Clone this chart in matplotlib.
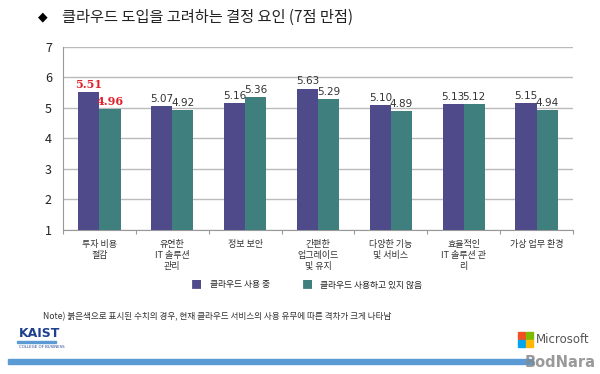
import numpy as np
import matplotlib
matplotlib.use("Agg")
import matplotlib.pyplot as plt
from matplotlib.patches import Rectangle

plt.rcParams['font.family'] = ['Noto Sans CJK KR', 'DejaVu Sans']

categories = ["투자 비용\n절감", "유연한\nIT 솔루션\n관리", "정보 보안", "간편한\n업그레이드\n및 유지",
              "다양한 기능\n및 서비스", "효율적인\nIT 솔루션 관\n리", "가상 업무 환경"]
using = [5.51, 5.07, 5.16, 5.63, 5.10, 5.13, 5.15]
not_using = [4.96, 4.92, 5.36, 5.29, 4.89, 5.12, 4.94]
series_names = ["클라우드 사용 중", "클라우드 사용하고 있지 않음"]
highlight = [True, False, False, False, False, False, False]

c_use = "#4f4b8a"
c_not = "#3f7f7d"

fig = plt.figure(figsize=(6, 3.74), dpi=100)
ax = fig.add_axes([0.105, 0.385, 0.85, 0.49])

x = np.arange(len(categories))
w = 0.29
ax.bar(x - w / 2, np.array(using) - 1, w, bottom=1, color=c_use, label=series_names[0], zorder=3)
ax.bar(x + w / 2, np.array(not_using) - 1, w, bottom=1, color=c_not, label=series_names[1], zorder=3)

for i in range(len(x)):
    if highlight[i]:
        kw = dict(color="#e0202a", fontweight="bold", family="DejaVu Serif", fontsize=8)
    else:
        kw = dict(color="#333333", family="DejaVu Sans", fontsize=7.5)
    ax.text(x[i] - w / 2, using[i] + 0.07, f"{using[i]:.2f}", ha="center", va="bottom", **kw)
    ax.text(x[i] + w / 2, not_using[i] + 0.07, f"{not_using[i]:.2f}", ha="center", va="bottom", **kw)

ax.set_xlim(-0.5, len(x) - 0.5)
ax.set_ylim(1, 7)
ax.set_yticks(range(1, 8))
ax.tick_params(axis="y", length=0, labelsize=9, colors="#222222", pad=8)
ax.set_xticks(np.arange(-0.5, len(x) + 0.5), minor=False)
ax.set_xticklabels([])
ax.tick_params(axis="x", length=3, color="#999999", direction="out")
for i, c in enumerate(categories):
    ax.text(x[i], 0.68, c, ha="center", va="top", fontsize=6.5, color="#333333",
            linespacing=1.3, transform=ax.transData)
ax.yaxis.grid(True, color="#bbbbbb", linewidth=1, zorder=0)
for s in ["top", "right"]:
    ax.spines[s].set_visible(False)
ax.spines["left"].set_color("#999999")
ax.spines["bottom"].set_color("#999999")

# legend
fig.text(0.328, 0.238, "■", fontsize=8, color=c_use, ha="center", va="center")
fig.text(0.35, 0.238, series_names[0], fontsize=6.3, color="#222222", va="center")
fig.text(0.512, 0.238, "■", fontsize=8, color=c_not, ha="center", va="center")
fig.text(0.533, 0.238, series_names[1], fontsize=6.3, color="#222222", va="center")

# title
fig.text(0.072, 0.955, "◆", fontsize=9, color="black", va="center", ha="center", family="DejaVu Sans")
fig.text(0.103, 0.955, "클라우드 도입을 고려하는 결정 요인 (7점 만점)", fontsize=11, color="#222222", va="center")

# footnote
fig.text(0.072, 0.152, "Note) 붉은색으로 표시된 수치의 경우, 현재 클라우드 서비스의 사용 유무에 따른 격차가 크게 나타남",
         fontsize=6.2, color="#333333", va="center")

# logos
fig.text(0.031, 0.107, "KAIST", fontsize=9, fontweight="bold", color="#1f3f8f", va="center", family="DejaVu Sans")
fig.patches.append(Rectangle((0.028, 0.083), 0.065, 0.004, transform=fig.transFigure, color="#5b9bd5"))
fig.text(0.031, 0.071, "COLLEGE OF BUSINESS", fontsize=2.8, color="#1f3f8f", va="center", family="DejaVu Sans")
ms = [("#f25022", 0, 1), ("#7fba00", 1, 1), ("#00a4ef", 0, 0), ("#ffb900", 1, 0)]
for col, cx, cy in ms:
    fig.patches.append(Rectangle((0.863 + cx * 0.013, 0.072 + cy * 0.021), 0.012, 0.019,
                                 transform=fig.transFigure, color=col))
fig.text(0.893, 0.093, "Microsoft", fontsize=8.5, color="#555555", va="center", family="DejaVu Sans")
fig.patches.append(Rectangle((0.013, 0.028), 0.875, 0.013, transform=fig.transFigure, color="#5b9bd5"))
fig.text(0.992, 0.03, "BodNara", fontsize=10.5, fontweight="bold", color="#888888", va="center", ha="right",
         family="DejaVu Sans", alpha=0.85)

fig.savefig("out.png", dpi=100)
